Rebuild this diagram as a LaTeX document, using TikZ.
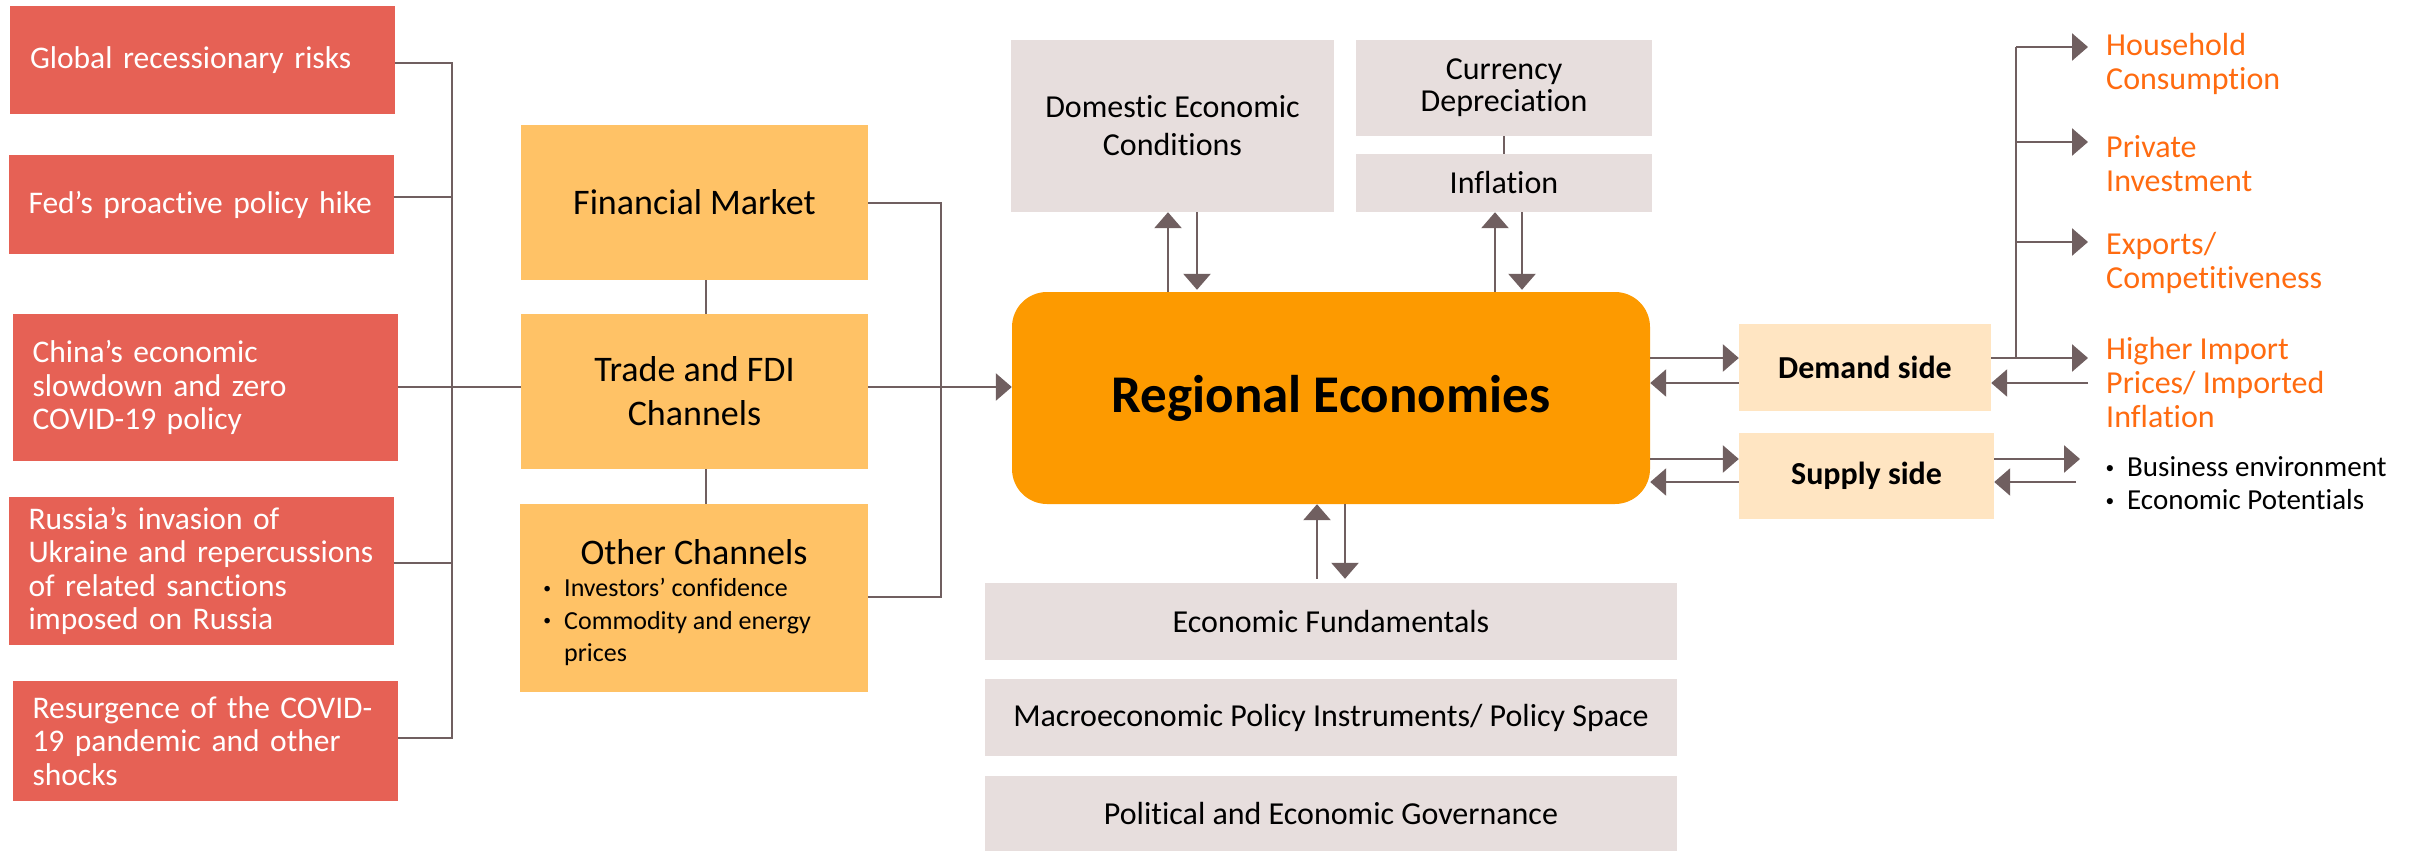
\documentclass[tikz,border=0pt]{standalone}
\usepackage{fontspec}
\usepackage{graphicx}
\setmainfont{Carlito}[Ligatures=NoCommon]
\usetikzlibrary{arrows.meta}
\definecolor{shockred}{HTML}{E66155}
\definecolor{chanfill}{HTML}{FFC266}
\definecolor{condfill}{HTML}{E7DEDD}
\definecolor{corefill}{HTML}{FD9A00}
\definecolor{sidefill}{HTML}{FFE5C2}
\definecolor{effectorange}{HTML}{FF6B10}
\definecolor{linegrey}{HTML}{705F60}
% small hanging bullet for the lists
\newcommand{\hangdot}{\llap{\raisebox{0.12em}{\scalebox{0.6}{\textbullet}}\hspace{13pt}}}
\begin{document}
\begin{tikzpicture}[x=1pt,y=-1pt,
  ln/.style={draw=linegrey, line width=2.7pt},
  arr/.style={ln, -{Triangle[length=16pt,width=27pt]}},
  sz/.style 2 args={minimum width=#1pt, minimum height=#2pt},
  shock/.style={fill=shockred, text=white, inner xsep=20pt, inner ysep=0pt,
    text width=345pt, align=left, font=\fontsize{31.5}{33.5}\selectfont},
  chan/.style={fill=chanfill, inner sep=0pt, align=center, font=\fontsize{36}{44}\selectfont},
  cond/.style={fill=condfill, inner sep=0pt, align=center, font=\fontsize{32}{38}\selectfont},
  side/.style={fill=sidefill, inner sep=0pt, align=center, font=\bfseries\fontsize{32}{38}\selectfont},
  effect/.style={text=effectorange, inner sep=0pt, align=left, anchor=west, font=\fontsize{32}{34}\selectfont},
  plain/.style={inner sep=0pt, align=left, anchor=west},
]
\useasboundingbox (0,0) rectangle (2413,851);

% external shocks
\node[shock, sz={385}{108}] (r1) at (202.5,60) {Global recessionary risks};
\node[shock, sz={385}{99}]  (r2) at (201,204.5) {Fed’s proactive policy hike};
\node[shock, sz={385}{147}] (r3) at (205,387.5) {China’s economic\\slowdown and zero\\COVID-19 policy};
\node[shock, sz={385}{148}] (r4) at (201,571) {Russia’s invasion of\\Ukraine and repercussions\\of related sanctions\\imposed on Russia};
\node[shock, sz={385}{120}] (r5) at (205,741) {Resurgence of the COVID-\\19 pandemic and other\\shocks};

% transmission channels
\node[chan, sz={347}{155}] (fm) at (694.5,202.5) {Financial Market};
\node[chan, sz={347}{155}] (tr) at (694.5,391.5) {Trade and FDI\\Channels};
\node[chan, sz={348}{188}] (oc) at (694,598) {};
\node[inner sep=0pt, font=\fontsize{36}{44}\selectfont] (octitle) at (694,552) {Other Channels};
\node[plain, font=\fontsize{26}{32.5}\selectfont] (oclist) at (564,622)
  {\hangdot Investors’ confidence\\\hangdot Commodity and energy\\prices};

% conditions
\node[cond, sz={323}{172}] (dom) at (1172.5,126) {Domestic Economic\\Conditions};
\node[cond, sz={296}{96}, font=\fontsize{32}{32}\selectfont] (cur) at (1504,88) {Currency\\Depreciation};
\node[cond, sz={296}{58}] (inf) at (1504,183) {Inflation};
\node[cond, sz={692}{77}] (ef) at (1331,621.5) {Economic Fundamentals};
\node[cond, sz={692}{77}] (mp) at (1331,717.5) {Macroeconomic Policy Instruments/ Policy Space};
\node[cond, sz={692}{75}] (pg) at (1331,813.5) {Political and Economic Governance};

% core
\node[fill=corefill, rounded corners=35pt, sz={638}{212}, inner sep=0pt,
  font=\bfseries\fontsize{53}{60}\selectfont] (re) at (1331,398) {Regional Economies};

% demand and supply
\node[side, sz={252}{87}] (dem) at (1865,367.5) {Demand side};
\node[side, sz={255}{86}] (sup) at (1866.5,476) {Supply side};

\node[effect] (hh) at (2106,64) {Household\\Consumption};
\node[effect] (pi) at (2106,163.5) {Private\\Investment};
\node[effect] (ex) at (2106,262.5) {Exports/\\Competitiveness};
\node[effect] (hi) at (2106,382.5) {Higher Import\\Prices/ Imported\\Inflation};

\node[plain, font=\fontsize{29}{33}\selectfont] (sf) at (2127,483.5)
  {\hangdot Business environment\\\hangdot Economic Potentials};

% shocks bus
\coordinate (j1) at (452,63);
\coordinate (j2) at (452,197);
\coordinate (j3) at (452,387);
\coordinate (j4) at (452,563);
\coordinate (j5) at (452,738);
\draw[ln] (r1.east |- j1) -- (j1) -- (j5) -- (r5.east |- j5);
\draw[ln] (r2.east |- j2) -- (j2);
\draw[ln] (r3.east |- j3) -- (tr.west |- j3);
\draw[ln] (r4.east |- j4) -- (j4);

% channel links
\draw[ln] (fm.south -| 706,0) -- (tr.north -| 706,0);
\draw[ln] (tr.south -| 706,0) -- (oc.north -| 706,0);

% channels bus
\coordinate (k1) at (941,203);
\coordinate (k2) at (941,387);
\coordinate (k3) at (941,597);
\draw[ln] (fm.east |- k1) -- (k1) -- (k3) -- (oc.east |- k3);
\draw[ln] (tr.east |- k2) -- (k2);
\draw[arr] (k2) -- (re.west |- k2);

% currency to inflation
\draw[ln] (cur.south) -- (inf.north);

% two-way links above and below the core
\draw[arr] (re.north -| 1168,0) -- (dom.south -| 1168,0);
\draw[arr, shorten >=2pt] (dom.south -| 1197,0) -- (re.north -| 1197,0);
\draw[arr] (re.north -| 1495,0) -- (inf.south -| 1495,0);
\draw[arr, shorten >=2pt] (inf.south -| 1522,0) -- (re.north -| 1522,0);
\draw[arr, shorten <=4pt] (ef.north -| 1317,0) -- (re.south -| 1317,0);
\draw[arr, shorten >=4pt] (re.south -| 1345,0) -- (ef.north -| 1345,0);

% core to demand and supply
\draw[arr] (re.east |- 0,358) -- (dem.west |- 0,358);
\draw[arr] (dem.west |- 0,383) -- (re.east |- 0,383);
\draw[arr] (re.east |- 0,459) -- (sup.west |- 0,459);
\draw[arr] (sup.west |- 0,482) -- (re.east |- 0,482);

% demand branches
\coordinate (d0) at (2016,358);
\coordinate (d1) at (2016,47);
\coordinate (d2) at (2016,142);
\coordinate (d3) at (2016,242);
\draw[ln] (d0) -- (d1);
\draw[arr, shorten >=18pt] (dem.east |- d0) -- (hi.west |- d0);
\draw[arr, shorten >=18pt] (d1) -- (hh.west |- d1);
\draw[arr, shorten >=18pt] (d2) -- (pi.west |- d2);
\draw[arr, shorten >=18pt] (d3) -- (ex.west |- d3);
\draw[arr, shorten <=18pt] (hi.west |- 0,383) -- (dem.east |- 0,383);

% supply factors
\draw[arr, shorten >=47pt] (sup.east |- 0,459) -- (sf.west |- 0,459);
\draw[arr, shorten <=51pt] (sf.west |- 0,482) -- (sup.east |- 0,482);
\end{tikzpicture}
\end{document}
